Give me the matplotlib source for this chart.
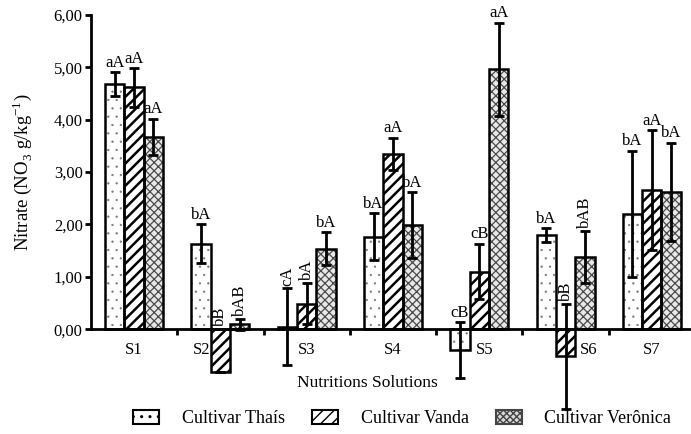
import matplotlib
matplotlib.use("Agg")
import matplotlib.pyplot as plt
from matplotlib.patches import Patch
import numpy as np

plt.rcParams['font.family'] = ['Liberation Serif', 'DejaVu Serif']
plt.rcParams['mathtext.fontset'] = 'custom'
plt.rcParams['mathtext.rm'] = 'Liberation Serif'

solutions = ["S1", "S2", "S3", "S4", "S5", "S6", "S7"]

thais = [4.68, 1.63, 0.05, 1.77, -0.40, 1.80, 2.20]
thais_err = [0.23, 0.37, 0.73, 0.44, 0.53, 0.13, 1.21]
vanda = [4.62, -0.82, 0.49, 3.35, 1.10, -0.52, 2.66]
vanda_err = [0.37, 0.0, 0.39, 0.31, 0.53, 1.00, 1.14]
veronica = [3.67, 0.09, 1.54, 1.99, 4.96, 1.38, 2.62]
veronica_err = [0.35, 0.10, 0.31, 0.63, 0.89, 0.50, 0.94]

thais_lbl = ['aA', 'bA', 'cA', 'bA', 'cB', 'bA', 'bA']
vanda_lbl = ['aA', 'bB', 'bA', 'aA', 'cB', 'bB', 'aA']
veronica_lbl = ['aA', 'bAB', 'bA', 'bA', 'aA', 'bAB', 'bA']

# which letter labels are written vertically (0 thais, 1 vanda, 2 veronica)
vertical = {(1, 1), (1, 2), (2, 0), (2, 1), (5, 1), (5, 2)}

fig = plt.figure(figsize=(6.91, 4.34), dpi=100)
ax = fig.add_axes([0.1317, 0.0484, 0.874, 0.917])

x = np.arange(len(solutions))
width = 0.224


def hatch_lw(bars, lw):
    for b in bars:
        if hasattr(b, "set_hatch_linewidth"):
            b.set_hatch_linewidth(lw)


series = [
    (thais, thais_err, thais_lbl, "..", "white", "#777777"),
    (vanda, vanda_err, vanda_lbl, "///", "white", "black"),
    (veronica, veronica_err, veronica_lbl, "xxxx", "#e8e8e8", "#4a4a4a"),
]
hlw = [0.4, 1.8, 0.9]

for k, (vals, errs, lbls, hatch, fc, hc) in enumerate(series):
    pos = x + (k - 1) * width
    # hatched fill first, then a black outline on top
    b = ax.bar(pos, vals, width, color=fc, edgecolor=hc, hatch=hatch, linewidth=0, zorder=2)
    hatch_lw(b, hlw[k])
    ax.bar(pos, vals, width, fill=False, edgecolor="black", linewidth=1.8, zorder=3)
    ax.errorbar(pos, vals, yerr=errs, fmt="none", ecolor="black", elinewidth=2,
                capsize=3.5, capthick=2, zorder=4)
    for i in range(len(vals)):
        top = max(vals[i] + errs[i], 0)
        if (i, k) in vertical:
            ax.annotate(lbls[i], (pos[i], top), xytext=(0, 2), textcoords="offset points",
                        ha="center", va="bottom", rotation=90, fontsize=12)
        else:
            ax.annotate(lbls[i], (pos[i], top), xytext=(0, 1), textcoords="offset points",
                        ha="center", va="bottom", fontsize=12)

ax.set_xlim(-0.5, 6.5)
ax.set_ylim(-1.6, 6.0)

ax.spines['top'].set_visible(False)
ax.spines['right'].set_visible(False)
ax.spines['bottom'].set_position(('data', 0))
ax.spines['left'].set_bounds(0, 6)
ax.spines['left'].set_linewidth(2)
ax.spines['bottom'].set_linewidth(2)
ax.spines['left'].set_zorder(5)
ax.spines['bottom'].set_zorder(5)

ax.set_yticks(np.arange(0, 7, 1))
ax.set_yticklabels([f"{v:.2f}".replace(".", ",") for v in range(7)], fontsize=12)
ax.tick_params(axis='y', length=4, width=2, pad=2)

# names sit beside the bars that hang below zero
name_shift = np.array([0, -0.22, 0, 0, 0.06, 0.27, 0])
ax.set_xticks(x + name_shift)
ax.set_xticklabels(solutions, fontsize=12)
ax.set_xticks(np.arange(0.5, 6, 1), minor=True)
ax.tick_params(axis='x', which='major', length=0, pad=9)
ax.tick_params(axis='x', which='minor', length=4, width=2, direction='out')

fig.text(0.032, 0.604, r"Nitrate (NO$_3$ g/kg$^{-1}$)", rotation=90,
         ha="center", va="center", fontsize=13.5)
fig.text(0.532, 0.1175, "Nutritions Solutions", ha="center", va="center", fontsize=12.5)

handles = [
    Patch(facecolor="white", edgecolor="black", hatch="..", linewidth=1.5, label="Cultivar Thaís"),
    Patch(facecolor="white", edgecolor="black", hatch="///", linewidth=1.5, label="Cultivar Vanda"),
    Patch(facecolor="#d8d8d8", edgecolor="#444444", hatch="xxxxx", linewidth=1.5, label="Cultivar Verônica"),
]
fig.legend(handles=handles, loc="center", bbox_to_anchor=(0.582, 0.035), ncol=3,
           frameon=False, fontsize=13, handlelength=1.45, handleheight=0.75,
           handletextpad=1.25, columnspacing=1.5, borderpad=0.2)

fig.savefig("out.png", dpi=100)
